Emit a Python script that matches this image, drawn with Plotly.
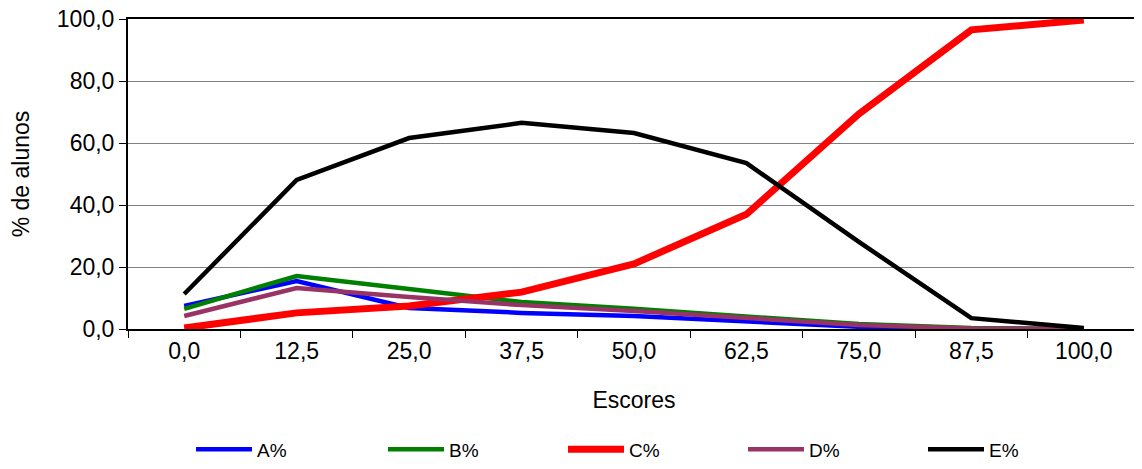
import plotly.graph_objects as go

escores = ["0,0", "12,5", "25,0", "37,5", "50,0", "62,5", "75,0", "87,5", "100,0"]
a_pct = [7.4, 15.5, 6.8, 5.2, 4.2, 2.6, 0.7, 0.1, 0.0]
b_pct = [6.5, 17.1, 12.9, 8.7, 6.5, 4.2, 1.6, 0.3, 0.0]
c_pct = [0.3, 5.2, 7.4, 11.9, 21.0, 37.0, 69.4, 96.5, 99.7]
d_pct = [4.2, 13.2, 10.3, 7.7, 5.8, 3.5, 1.3, 0.2, 0.0]
e_pct = [11.3, 48.1, 61.6, 66.5, 63.2, 53.5, 28.1, 3.5, 0.3]

series = [
    ("A%", a_pct, "#0000FF", 4.5, "legend2"),
    ("B%", b_pct, "#008000", 4.5, "legend"),
    ("C%", c_pct, "#FF0000", 7, "legend"),
    ("D%", d_pct, "#993366", 4.5, "legend"),
    ("E%", e_pct, "#000000", 4.5, "legend"),
]

fig = go.Figure()
for name, vals, color, w, leg in series:
    fig.add_trace(go.Scatter(x=escores, y=vals, mode="lines", name=name,
                             line=dict(color=color, width=w), legend=leg))

font = "Liberation Sans, Arial, sans-serif"
leg_common = dict(orientation="h", xref="container", yref="container",
                  xanchor="left", yanchor="top", y=0.0675,
                  font=dict(size=19), entrywidth=109, entrywidthmode="pixels",
                  itemwidth=56, traceorder="normal", bgcolor="rgba(0,0,0,0)")
fig.update_layout(
    width=1134, height=453,
    margin=dict(l=120, r=2, t=11, b=132, autoexpand=False),
    paper_bgcolor="white", plot_bgcolor="white",
    font=dict(family=font, size=23, color="black"),
    showlegend=True,
    legend=dict(x=0.3307, **leg_common),
    legend2=dict(x=0.1614, **leg_common),
)
fig.update_xaxes(
    type="category", range=[-0.5, 8.5], automargin=False,
    showline=True, linecolor="black", linewidth=2, mirror=True,
    ticks="outside", tickson="boundaries", ticklen=7, tickcolor="black",
    showgrid=False, title=dict(text="Escores", font=dict(size=23), standoff=29),
    tickfont=dict(size=23), ticklabeloverflow="allow",
)
fig.update_yaxes(
    range=[0, 100], tickvals=[0, 20, 40, 60, 80, 100], automargin=False,
    ticktext=["0,0", "20,0", "40,0", "60,0", "80,0", "100,0"],
    showline=True, linecolor="black", linewidth=2, mirror=True,
    ticks="outside", ticklen=7, tickcolor="black",
    showgrid=True, gridcolor="#808080", gridwidth=1,
    title=dict(text="% de alunos", font=dict(size=23), standoff=33),
    tickfont=dict(size=23), zeroline=False, ticklabeloverflow="allow",
)
fig.write_html("out.html")
